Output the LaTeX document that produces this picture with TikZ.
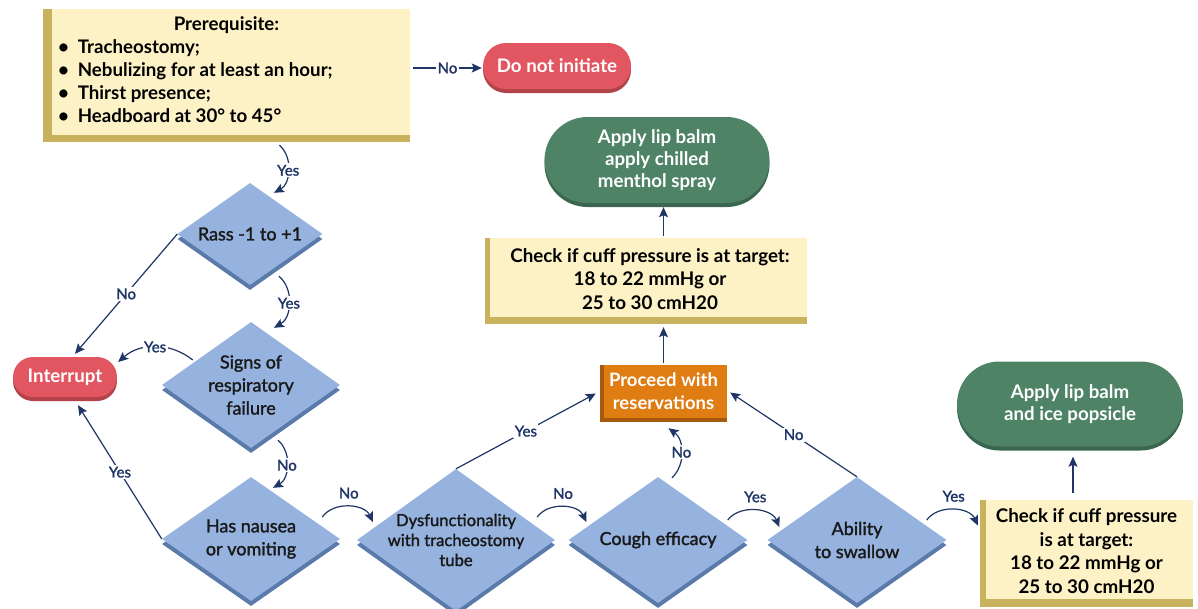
\documentclass[tikz,border=0pt]{standalone}
\usepackage{fontspec}
\setmainfont{Lato}
\newfontfamily\medfont{Lato}[FakeBold=1.6]
\usetikzlibrary{shapes.geometric,shapes.misc,shadows,arrows.meta,calc}
\definecolor{navy}{HTML}{1F3566}
\definecolor{dblue}{HTML}{95B3DE}
\definecolor{dblueS}{HTML}{5A7BAA}
\definecolor{pred}{HTML}{E15661}
\definecolor{predS}{HTML}{B2434B}
\definecolor{pgreen}{HTML}{4E8366}
\definecolor{pgreenS}{HTML}{3A6650}
\definecolor{yfill}{HTML}{FDF2C6}
\definecolor{ygold}{HTML}{C8B25E}
\definecolor{porange}{HTML}{DF7C12}
\definecolor{porangeS}{HTML}{A65B0C}
\begin{document}
\begin{tikzpicture}[x=1pt,y=-1pt,
  arr/.style={draw=navy, line width=1.2pt, -{Stealth[length=10pt,width=9pt,inset=2pt]}},
  lbl/.style={text=navy, font=\medfont\fontsize{15}{17}\selectfont, inner sep=1.5pt},
  lblw/.style={lbl, fill=white},
  dia/.style={diamond, fill=dblue, inner sep=0pt, draw=none,
     drop shadow={shadow xshift=0pt, shadow yshift=-5pt, fill=dblueS, opacity=1}},
  dtxt/.style={align=center, font=\medfont\fontsize{18}{23}\selectfont, text=black!90, inner sep=0pt},
  pill/.style 2 args={rounded rectangle, fill=#1, text=white, align=center, inner sep=0pt,
     font=\bfseries\fontsize{18.7}{22}\selectfont,
     drop shadow={shadow xshift=0pt, shadow yshift=-4pt, fill=#2, opacity=1}},
  ybox/.style 2 args={rectangle, fill=ygold, inner sep=0pt, align=center, text=black,
     font=\bfseries\fontsize{18.8}{23.5}\selectfont,
     path picture={\fill[yfill] ([xshift=#1]path picture bounding box.north west) rectangle ([yshift=#2]path picture bounding box.south east);}},
  obox/.style={rectangle, fill=porangeS, inner sep=0pt, align=center, text=white,
     font=\bfseries\fontsize{18.5}{23}\selectfont,
     path picture={\fill[porange] ([xshift=4pt]path picture bounding box.north west) rectangle ([yshift=4pt]path picture bounding box.south east);}},
]
\fill[white] (0,0) rectangle (1198,608);
\useasboundingbox (0,0) rectangle (1198,608);

% boxes
\node[ybox={9pt}{7pt}, minimum width=367pt, minimum height=133pt, font=\bfseries\fontsize{18.7}{23}\selectfont] (pre) at (226.5,75.5)
  {\raisebox{5.5pt}[\height][\depth]{\begin{minipage}{337pt}\raggedright
   \makebox[\linewidth]{Prerequisite:}\\
   \textbullet\hspace{9pt}Tracheostomy;\\
   \textbullet\hspace{9pt}Nebulizing for at least an hour;\\
   \textbullet\hspace{9pt}Thirst presence;\\
   \textbullet\hspace{9pt}Headboard at 30° to 45°\end{minipage}}};
\node[pill={pred}{predS}, minimum width=148pt, minimum height=46pt] (donot) at (557,66) {Do not initiate};
\node[pill={pred}{predS}, minimum width=104pt, minimum height=40pt] (intr) at (65,377) {Interrupt};
\node[pill={pgreen}{pgreenS}, minimum width=225pt, minimum height=86pt] (g1) at (657,160) {Apply lip balm\\apply chilled\\menthol spray};
\node[pill={pgreen}{pgreenS}, minimum width=226pt, minimum height=85pt] (g2) at (1070,404) {Apply lip balm\\and ice popsicle};
\node[obox, minimum width=127pt, minimum height=57pt] (proc) at (663.5,393.5) {\begin{tabular}{@{}c@{}}Proceed with\\reservations\end{tabular}};
\node[ybox={5pt}{7pt}, minimum width=322pt, minimum height=86pt] (c1) at (646,281)
  {\hspace*{8pt}\begin{tabular}{@{}c@{}}Check if cuff pressure is at target:\\18 to 22 mmHg or\\25 to 30 cmH20\end{tabular}};
\node[ybox={6pt}{8pt}, minimum width=213pt, minimum height=107pt] (c2) at (1086.5,553.5)
  {\begin{tabular}{@{}c@{}}Check if cuff pressure\\is at target:\\18 to 22 mmHg or\\25 to 30 cmH20\end{tabular}};

% diamonds
\node[dia, minimum width=145pt, minimum height=102pt, label={[dtxt]center:{Rass -1 to +1}}] (rass) at (250,234) {};
\node[dia, minimum width=178pt, minimum height=126pt, label={[dtxt]center:{Signs of\\respiratory\\failure}}] (signs) at (251,385) {};
\node[dia, minimum width=178pt, minimum height=124pt, label={[dtxt]center:{Has nausea\\or vomiting}}] (nausea) at (251,539) {};
\node[dia, minimum width=198pt, minimum height=142pt, label={[dtxt,font=\medfont\fontsize{16.6}{20}\selectfont]center:{Dysfunctionality\\with tracheostomy\\tube}}] (dys) at (456,540) {};
\node[dia, minimum width=179pt, minimum height=126pt, label={[dtxt]center:{Cough efficacy}}] (cough) at (658,540) {};
\node[dia, minimum width=179pt, minimum height=126pt, label={[dtxt]center:{Ability\\to swallow}}] (abil) at (857,540) {};

% connectors
\draw[arr] ($(pre.east |- donot.west)+(3,2)$) -- node[lblw]{No} ($(donot.west)+(-1,2)$);
\draw[arr] ($(pre.south)+(53,3)$) to[bend left=55] node[lblw]{Yes} ($(rass.north)+(24,10)$);
\draw[arr] ($(rass.south)+(29,-9)$) to[bend left=55] node[lblw]{Yes} ($(signs.north)+(23,6)$);
\draw[arr] (rass.west) -- node[lblw]{No} ($(intr.north)+(10,-3)$);
\draw[arr] ($(signs.west)+(31,-25)$) to[bend right=40] node[lblw]{Yes} ($(intr.east)+(1,-15)$);
\draw[arr] ($(signs.south)+(27,-8)$) to[bend left=55] node[lblw]{No} ($(nausea.north)+(22,11)$);
\draw[arr] (nausea.west) -- node[lblw]{Yes} ($(intr.south)+(13,8)$);
\draw[arr] ($(nausea.east)+(-18,-22)$) to[bend left=60] node[lbl,above=6pt]{No} ($(dys.west)+(16,-18)$);
\draw[arr] ($(dys.east)+(-18,-23)$) to[bend left=60] node[lbl,above=6pt]{No} ($(cough.west)+(18,-18)$);
\draw[arr] ($(cough.east)+(-20,-20)$) to[bend left=60] node[lbl,above=6pt]{Yes} ($(abil.west)+(12,-13)$);
\draw[arr] ($(abil.east)+(-20,-20)$) to[bend left=60] node[lbl,above=6pt]{Yes} ($(c2.west)+(-2,-28)$);
\draw[arr] (dys.north) -- node[lblw]{Yes} ($(proc.west)+(-4,0)$);
\draw[arr] ($(cough.north)+(14,1)$) to[bend right=50] node[lblw]{No} ($(proc.south)+(5,6)$);
\draw[arr] (abil.north) -- node[lblw]{No} ($(proc.east)+(3,-1)$);
\draw[arr] ($(proc.north)+(0,-2)$) -- ($(proc.north |- c1.south)+(0,3)$);
\draw[arr] ($(proc.north |- c1.north)+(0,-2)$) -- ($(proc.north |- g1.south)+(0,4)$);
\draw[arr] ($(g2.south |- c2.north)+(3,-7)$) -- ($(g2.south)+(3,10)$);
\end{tikzpicture}
\end{document}
